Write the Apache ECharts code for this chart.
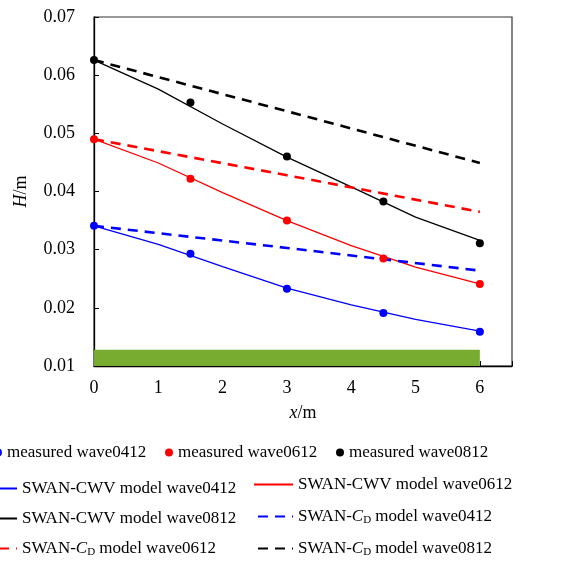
<!DOCTYPE html>
<html>
<head>
<meta charset="utf-8">
<script src="https://cdn.jsdelivr.net/npm/echarts@6/dist/echarts.min.js"></script>
<style>
  html, body { margin: 0; padding: 0; background: #fff; }
  #chart { width: 561px; height: 561px; }
</style>
</head>
<body>
<div id="chart"></div>
<script>
// measured wave heights
const xMeas = [0, 1.5, 3, 4.5, 6]
const meas0412 = [0.0341, 0.0293, 0.0233, 0.0191, 0.0159]
const meas0612 = [0.0490, 0.0422, 0.0350, 0.0285, 0.0241]
const meas0812 = [0.0626, 0.0553, 0.0460, 0.0383, 0.0311]

// SWAN-CWV model
const xModel = [0, 1, 2, 3, 4, 5, 6]
const cwv0412 = [0.0341, 0.0309, 0.0271, 0.0234, 0.0205, 0.0180, 0.0160]
const cwv0612 = [0.0490, 0.0449, 0.0398, 0.0350, 0.0307, 0.0270, 0.0241]
const cwv0812 = [0.0626, 0.0576, 0.0516, 0.0459, 0.0408, 0.0356, 0.0316]

// SWAN-CD model
const xCd = [0, 3, 6]
const cd0412 = [0.0341, 0.0303, 0.0264]
const cd0612 = [0.0490, 0.0428, 0.0365]
const cd0812 = [0.0626, 0.0538, 0.0449]

// vegetation patch
const vegX = [0, 6]
const vegH = [0.01, 0.0128]

const xTicks = [0, 1, 2, 3, 4, 5, 6]

const FONT = 'Liberation Serif'
const pair = (xs, ys) => xs.map((x, i) => [x, ys[i]])

function scatter(name, color, ys) {
  return {
    name: name,
    type: 'scatter',
    data: pair(xMeas, ys),
    symbol: 'circle',
    symbolSize: 8,
    itemStyle: { color: color, opacity: 1 },
    z: 5
  }
}

function line(name, color, xs, ys, dashed) {
  return {
    name: name,
    type: 'line',
    data: pair(xs, ys),
    symbol: 'none',
    showSymbol: false,
    lineStyle: {
      color: color,
      width: dashed ? 2.6 : 1.3,
      type: dashed ? [10, 7] : 'solid'
    },
    itemStyle: { color: color },
    z: 3
  }
}

function leg(name, left, top, w, h, noDot) {
  const l = {
    data: [name],
    left: left,
    top: top,
    padding: 0,
    itemWidth: w,
    itemHeight: h,
    itemGap: 0,
    selectedMode: false,
    textStyle: {
      fontFamily: FONT,
      fontSize: 17,
      color: '#000',
      rich: {
        i: { fontFamily: FONT, fontSize: 17, fontStyle: 'italic', color: '#000' },
        sub: { fontFamily: FONT, fontSize: 11, color: '#000', padding: [7, 0, 0, 0] }
      }
    },
    formatter: function(n) {
      return n.replace('-CD', '-{i|C}{sub|D}')
    }
  }
  if (noDot) {
    // line series legend draws a circle by default, hide it
    l.itemStyle = { color: 'transparent', borderWidth: 0, opacity: 0 }
  }
  return l
}

const myChart = echarts.init(document.getElementById('chart'), null, { renderer: 'canvas' })

const option = {
  animation: false,
  textStyle: { fontFamily: FONT },
  grid: {
    left: 94,
    top: 17,
    right: 49,
    bottom: 195,
    show: true,
    borderColor: '#333',
    borderWidth: 1.2,
    outerBoundsMode: 'none'
  },
  legend: [
    leg('measured wave0412', -6, 444, 8, 8),
    leg('measured wave0612', 165, 444, 8, 8),
    leg('measured wave0812', 336, 444, 8, 8),
    leg('SWAN-CWV model wave0412', -20, 480, 36, 14, true),
    leg('SWAN-CWV model wave0612', 253, 476, 39, 14, true),
    leg('SWAN-CWV model wave0812', -20, 510, 36, 14, true),
    leg('SWAN-CD model wave0412', 257, 508, 35, 14, true),
    leg('SWAN-CD model wave0612', -19, 540, 35, 14, true),
    leg('SWAN-CD model wave0812', 257, 540, 35, 14, true)
  ],
  xAxis: {
    type: 'value',
    min: 0,
    max: 6.5,
    interval: 1,
    name: '{i|x}/m',
    nameLocation: 'middle',
    nameGap: 38,
    nameTextStyle: {
      fontFamily: FONT,
      fontSize: 18,
      color: '#000',
      rich: { i: { fontFamily: FONT, fontSize: 18, fontStyle: 'italic', color: '#000' } }
    },
    axisLine: { show: true, onZero: false, lineStyle: { color: '#000', width: 1.3 } },
    axisTick: { show: true, inside: true, length: 5, lineStyle: { color: '#000' } },
    axisLabel: {
      margin: 13,
      fontFamily: FONT,
      fontSize: 18,
      color: '#000',
      formatter: function(v) {
        return xTicks.indexOf(v) >= 0 ? String(v) : ''
      }
    },
    splitLine: { show: false }
  },
  yAxis: {
    type: 'value',
    min: 0.01,
    max: 0.07,
    interval: 0.01,
    name: '{i|H}/m',
    nameLocation: 'middle',
    nameGap: 64,
    nameTextStyle: {
      fontFamily: FONT,
      fontSize: 18,
      color: '#000',
      rich: { i: { fontFamily: FONT, fontSize: 18, fontStyle: 'italic', color: '#000' } }
    },
    axisLine: { show: true, onZero: false, lineStyle: { color: '#000', width: 1.3 } },
    axisTick: { show: true, inside: true, length: 5, lineStyle: { color: '#000' } },
    axisLabel: {
      margin: 19,
      fontFamily: FONT,
      fontSize: 18,
      color: '#000',
      formatter: function(v) {
        return v.toFixed(2)
      }
    },
    splitLine: { show: false }
  },
  series: [
    {
      name: 'vegetation',
      type: 'line',
      data: [],
      silent: true,
      markArea: {
        silent: true,
        itemStyle: { color: '#77ac30', opacity: 1 },
        data: [[{ coord: [vegX[0], vegH[0]] }, { coord: [vegX[1], vegH[1]] }]]
      },
      z: 1
    },
    line('SWAN-CWV model wave0412', '#0000ff', xModel, cwv0412, false),
    line('SWAN-CWV model wave0612', '#ff0000', xModel, cwv0612, false),
    line('SWAN-CWV model wave0812', '#000000', xModel, cwv0812, false),
    line('SWAN-CD model wave0412', '#0000ff', xCd, cd0412, true),
    line('SWAN-CD model wave0612', '#ff0000', xCd, cd0612, true),
    line('SWAN-CD model wave0812', '#000000', xCd, cd0812, true),
    scatter('measured wave0412', '#0000ff', meas0412),
    scatter('measured wave0612', '#ff0000', meas0612),
    scatter('measured wave0812', '#000000', meas0812)
  ]
}

option && myChart.setOption(option)
</script>
</body>
</html>
